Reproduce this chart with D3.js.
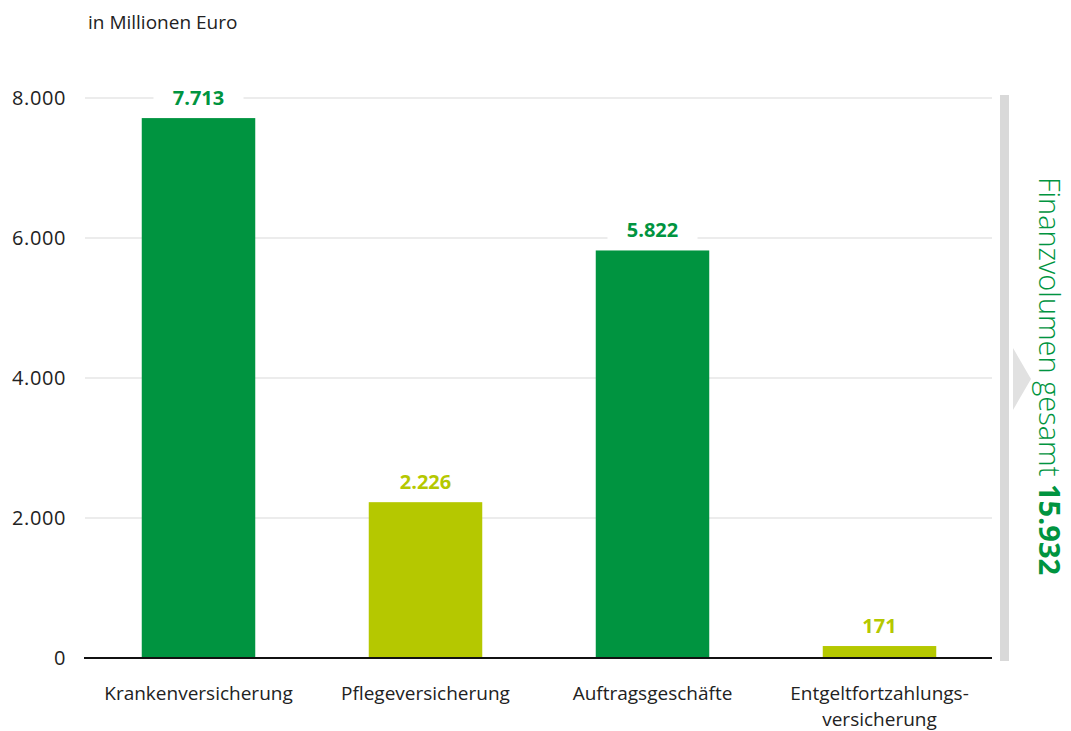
<!DOCTYPE html>
<html>
<head>
  <meta charset="utf-8">
  <style>
    body { margin: 0; background: #fff; }
    svg text { font-family: "Open Sans", "Noto Sans", sans-serif; }
  </style>
</head>
<body>
<svg id="chart" width="1071" height="731"></svg>
<script src="https://cdn.jsdelivr.net/npm/d3@7"></script>
<script>
  const categories = ["Krankenversicherung", "Pflegeversicherung", "Auftragsgeschäfte", "Entgeltfortzahlungs-\nversicherung"];
  const values = [7713, 2226, 5822, 171];
  const barColors = ["#009440", "#b5c800", "#009440", "#b5c800"];
  const yTicks = [0, 2000, 4000, 6000, 8000];
  const total = 15932;

  const de = d3.formatLocale({ decimal: ",", thousands: ".", grouping: [3], currency: ["", " €"] });
  const fmt = de.format(",d");

  const svg = d3.select("#chart");

  let x = d3.scaleBand()
    .domain(categories)
    .range([85, 993])
    .paddingInner(0.5)
    .paddingOuter(0.25);

  let y = d3.scaleLinear()
    .domain([0, 8000])
    .range([658, 98]);

  // gridlines
  svg.append("g")
    .selectAll("line")
    .data(yTicks.filter(d => d > 0))
    .enter()
    .append("line")
    .attr("x1", 85).attr("x2", 992)
    .attr("y1", d => y(d)).attr("y2", d => y(d))
    .style("stroke", "#d9d9d9")
    .style("stroke-width", 1);

  // y tick labels
  svg.append("g")
    .selectAll("text")
    .data(yTicks)
    .enter()
    .append("text")
    .attr("x", 66)
    .attr("y", d => y(d) + 7)
    .attr("text-anchor", "end")
    .style("font-size", "20px")
    .style("letter-spacing", "0.6px")
    .style("fill", "#222")
    .text(d => fmt(d));

  svg.append("text")
    .attr("x", 88).attr("y", 29)
    .style("font-size", "19px")
    .style("fill", "#222")
    .text("in Millionen Euro");

  // bars
  svg.append("g")
    .selectAll("rect")
    .data(values)
    .enter()
    .append("rect")
    .attr("x", (d, i) => x(categories[i]))
    .attr("y", d => y(d))
    .attr("width", x.bandwidth())
    .attr("height", d => y(0) - y(d))
    .style("fill", (d, i) => barColors[i]);

  // value labels with white boxes
  let lab = svg.append("g")
    .selectAll("g")
    .data(values)
    .enter()
    .append("g")
    .attr("transform", (d, i) => `translate(${x(categories[i]) + x.bandwidth() / 2}, ${y(d) - 20})`);

  lab.append("rect")
    .attr("x", -45).attr("y", -13)
    .attr("width", 90).attr("height", 26)
    .style("fill", "#fff");

  lab.append("text")
    .attr("text-anchor", "middle")
    .attr("y", 7)
    .style("font-size", "20px")
    .style("font-weight", "bold")
    .style("fill", (d, i) => barColors[i])
    .text(d => fmt(d));

  // baseline
  svg.append("line")
    .attr("x1", 84).attr("x2", 992)
    .attr("y1", y(0)).attr("y2", y(0))
    .style("stroke", "#111")
    .style("stroke-width", 2);

  // x labels
  let xl = svg.append("g")
    .selectAll("text")
    .data(categories)
    .enter()
    .append("text")
    .attr("text-anchor", "middle")
    .attr("x", d => x(d) + x.bandwidth() / 2)
    .attr("y", 700)
    .style("font-size", "19px")
    .style("fill", "#222");

  xl.selectAll("tspan")
    .data(d => d.split("\n"))
    .enter()
    .append("tspan")
    .attr("x", function () { return d3.select(this.parentNode).attr("x"); })
    .attr("dy", (d, i) => i === 0 ? 0 : 26)
    .text(d => d);

  // total bracket
  svg.append("rect")
    .attr("x", 1000).attr("y", 95)
    .attr("width", 9).attr("height", 566)
    .style("fill", "#d9d9d9");

  svg.append("path")
    .attr("d", "M1013,348 L1031,379 L1013,410 Z")
    .style("fill", "#e1e1e1");

  let tt = svg.append("text")
    .attr("transform", "translate(1039, 376) rotate(90)")
    .attr("text-anchor", "middle")
    .style("font-size", "29px")
    .style("font-weight", 300)
    .style("fill", "#009440");
  tt.append("tspan").text("Finanzvolumen gesamt ");
  tt.append("tspan").style("font-weight", "bold").text(fmt(total));
</script>
</body>
</html>
